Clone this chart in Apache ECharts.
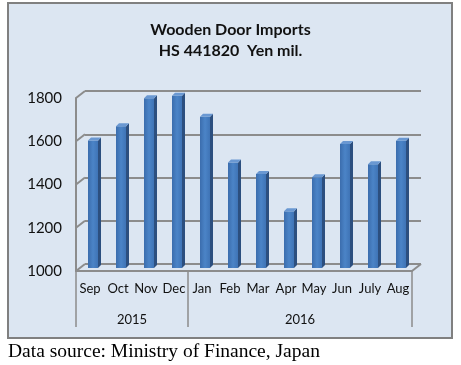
<!DOCTYPE html>
<html><head><meta charset="utf-8">
<script src="https://cdn.jsdelivr.net/npm/echarts@6/dist/echarts.min.js"></script>
<style>html,body{margin:0;padding:0;background:#fff}#c{width:461px;height:365px}</style>
</head><body><div id="c"></div>
<script>
const months = ['Sep','Oct','Nov','Dec','Jan','Feb','Mar','Apr','May','Jun','July','Aug'];
const imports = [1590,1655,1785,1797,1700,1488,1435,1262,1420,1573,1480,1588];
const yearLabels = ['', '', '2015', '', '', '', '', '', '2016', '', '', '', ''];
const yearBreaks = [0, 4, 12];
const yTicks = [1000,1200,1400,1600,1800];
const titleText = 'Wooden Door Imports\nHS 441820  Yen mil.';
const sourceText = 'Data source: Ministry of Finance, Japan';

const GRAY = '#8c8c8c';
const FONT = 'Lato';
const chart = echarts.init(document.getElementById('c'), null, {renderer:'canvas'});

const gFront = {left:76, top:98, width:336, height:173};
const gBack = {left:85, top:91, width:336, height:173};

const yBase = {type:'value', min:1000, max:1800, interval:200};

chart.setOption({
  backgroundColor:'#ffffff',
  animation:false,
  title:{
    text:titleText, left:'center', top:19, padding:0,
    textStyle:{fontFamily:FONT, fontSize:16, fontWeight:'bold', color:'#111', lineHeight:21}
  },
  graphic:[
    {type:'rect', z:-10, shape:{x:8, y:3, width:444, height:335},
     style:{fill:'#dce6f2', stroke:'#808080', lineWidth:2}},
    {type:'text', x:8, y:352, style:{text:sourceText, font:'19.5px "Liberation Serif"', fill:'#000', textVerticalAlign:'middle'}}
  ],
  grid:[
    Object.assign({containLabel:false}, gFront),
    Object.assign({containLabel:false}, gBack),
    Object.assign({containLabel:false}, gFront)
  ],
  xAxis:[
    {type:'category', gridIndex:0, data:months, position:'bottom',
     axisLine:{show:true, lineStyle:{color:GRAY, width:2}},
     axisTick:{show:false},
     axisLabel:{interval:0, margin:11, fontFamily:FONT, fontSize:13, color:'#111'}},
    {type:'category', gridIndex:1, data:months, show:false},
    {type:'category', gridIndex:2, data:yearLabels, boundaryGap:false, position:'bottom',
     axisLine:{show:false},
     axisTick:{show:true, length:56, interval:function(idx){return yearBreaks.indexOf(idx) >= 0;},
       lineStyle:{color:GRAY, width:1.5}},
     axisLabel:{interval:0, margin:42, fontFamily:FONT, fontSize:13, color:'#111'}}
  ],
  yAxis:[
    Object.assign({gridIndex:0,
     axisLine:{show:true, lineStyle:{color:GRAY, width:2}},
     axisTick:{show:false}, splitLine:{show:false},
     axisLabel:{margin:14, fontFamily:FONT, fontSize:15, color:'#111', formatter:function(v){return String(v);}}}, yBase),
    Object.assign({gridIndex:1,
     axisLine:{show:false}, axisTick:{show:false}, axisLabel:{show:false},
     splitLine:{show:true, lineStyle:{color:GRAY, width:2}}}, yBase),
    Object.assign({gridIndex:2, show:false}, yBase)
  ],
  series:[
    {
      type:'custom', xAxisIndex:0, yAxisIndex:0, z:1,
      data: yTicks.map(v => [0, v]),
      clip:false,
      renderItem: function(params, api){
        const v = api.value(1);
        const p = api.coord([0, v]);
        const cs = params.coordSys;
        const ch = [{type:'line', shape:{x1:cs.x, y1:p[1], x2:cs.x+9, y2:p[1]-7},
                     style:{stroke:GRAY, lineWidth:2}}];
        if (v === yTicks[0]) {
          ch.push({type:'line', shape:{x1:cs.x+cs.width, y1:p[1], x2:cs.x+cs.width+9, y2:p[1]-7},
                   style:{stroke:GRAY, lineWidth:2}});
        }
        return {type:'group', children:ch};
      }
    },
    {
      type:'custom', xAxisIndex:0, yAxisIndex:0, z:5,
      data: imports.map((v, i) => [i, v]),
      encode:{x:0, y:1},
      clip:false,
      renderItem: function(params, api){
        const i = api.value(0), v = api.value(1);
        const top = api.coord([i, v]);
        const bot = api.coord([i, yTicks[0]]);
        const w = 10, d = 3;
        const cx = top[0] + 3;
        const x0 = cx - w/2, x1 = cx + w/2;
        const yT = top[1] - 3, yB = bot[1] - 3;
        return {type:'group', children:[
          {type:'rect', shape:{x:x0, y:yT, width:w, height:yB-yT},
           style:{fill:new echarts.graphic.LinearGradient(0,0,1,0,[
             {offset:0, color:'#3b6dad'},{offset:0.5, color:'#4b84c7'},{offset:1, color:'#3f74b6'}])}},
          {type:'polygon', shape:{points:[[x1,yT],[x1+d,yT-d],[x1+d,yB-d],[x1,yB]]},
           style:{fill:'#2c4f7f'}},
          {type:'polygon', shape:{points:[[x0,yT],[x0+d,yT-d],[x1+d,yT-d],[x1,yT]]},
           style:{fill:'#6a98d2'}}
        ]};
      }
    }
  ]
});
</script></body></html>
